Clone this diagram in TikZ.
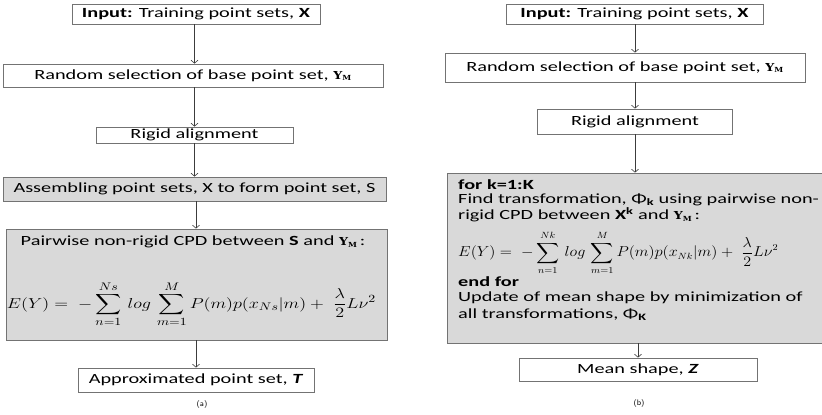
\documentclass[tikz,border=0pt]{standalone}
\usepackage{graphicx}
\usepackage{exscale}
\usepackage[no-math]{fontspec}
\setmainfont{Carlito}[FakeStretch=1.45]
\newfontfamily\ymfont{DejaVu Serif}[FakeStretch=1.15]
\usetikzlibrary{arrows.meta}
\definecolor{bordc}{RGB}{115,115,115}
\definecolor{fillg}{RGB}{217,217,217}
\definecolor{arrc}{RGB}{60,60,60}
\newcommand{\YM}{{\ymfont\bfseries\fontsize{11}{12}\selectfont Y\textsubscript{\fontsize{7}{8}\selectfont M}}}
\newcommand{\fml}[1]{$\displaystyle E(Y) = \;-\sum_{n=1}^{#1} \,log\, \sum_{m=1}^{M} P(m)p(x_{#1}|m) + \;\frac{\lambda}{2} L\nu^2$}
\begin{document}
\begin{tikzpicture}[x=1pt,y=-1pt,
  box/.style={draw=bordc, line width=0.8pt, fill=white, inner sep=0pt, font=\fontsize{14}{15}\selectfont},
  gbox/.style={box, fill=fillg},
  txt/.style={inner sep=0pt, font=\fontsize{14}{15}\selectfont},
  arr/.style={draw=arrc, line width=0.6pt, -{Straight Barb[length=3pt,width=7pt]}},
  capt/.style={inner sep=0pt, font=\fontfamily{lmss}\fontsize{8}{9}\selectfont}]
\useasboundingbox (0,0) rectangle (822,415);
% ---------- left (a) ----------
\node[box, minimum width=248pt, minimum height=20pt] (in1) at (196,14) {\textbf{Input:} Training point sets, \textbf{X}};
\node[box, minimum width=380pt, minimum height=23pt] (rs1) at (193,75.5) {Random selection of base point set, \YM};
\node[box, minimum width=197pt, minimum height=16pt] (ra1) at (194.5,135) {Rigid alignment};
\node[gbox, minimum width=383pt, minimum height=24pt] (as1) at (194.5,189) {Assembling point sets, X to form point set, S};
\node[gbox, minimum width=381pt, minimum height=111pt] (pw1) at (196.5,284.5) {};
\node[txt] (pw1t) at (193,242) {Pairwise non-rigid CPD between \textbf{S} and \YM\,:};
\node[txt] (pw1f) at (191.5,304) {\resizebox{369pt}{\height}{\fontsize{15}{18}\selectfont\fml{Ns}}};
\node[box, minimum width=236pt, minimum height=24pt] (ap1) at (196,380) {Approximated point set, \textbf{\textit{T}}};
\node[capt] (cap1) at (202,404) {(a)};
\draw[arr] (in1.south -| ra1.south) -- (ra1.south |- rs1.north);
\draw[arr] (rs1.south -| ra1.south) -- (ra1.north);
\draw[arr] (ra1.south) -- (as1.north -| ra1.south);
\draw[arr] (as1.south -| ap1.north) -- (pw1.north -| ap1.north);
\draw[arr] (pw1.south -| ap1.north) -- (ap1.north);
% ---------- right (b) ----------
\node[box, minimum width=257pt, minimum height=20pt] (in2) at (634.5,14) {\textbf{Input:} Training point sets, \textbf{X}};
\node[box, minimum width=360pt, minimum height=29pt] (rs2) at (625,67.5) {Random selection of base point set, \YM};
\node[box, minimum width=195pt, minimum height=25pt] (ra2) at (635,121.5) {Rigid alignment};
\node[gbox, minimum width=378pt, minimum height=170pt] (lp2) at (636,258) {};
\node[txt, anchor=west] (l1) at (458,185) {\textbf{for k=1:K}};
\node[txt, anchor=west] (l2) at (458,200) {Find transformation, Φ\textsubscript{\textbf{k}} using pairwise non-};
\node[txt, anchor=west] (l3) at (458,215) {rigid CPD between \textbf{X\textsuperscript{k}} and \YM\,:};
\node[txt, anchor=west] (l4) at (458,253) {\resizebox{320pt}{\height}{\fontsize{13.5}{16}\selectfont\fml{Nk}}};
\node[txt, anchor=west] (l5) at (458,282) {\textbf{end for}};
\node[txt, anchor=west] (l6) at (458,298) {Update of mean shape by minimization of};
\node[txt, anchor=west] (l7) at (458,315) {all transformations, Φ\textsubscript{\textbf{K}}};
\node[box, minimum width=238pt, minimum height=23pt] (mn2) at (638,369.5) {Mean shape, \textbf{\textit{Z}}};
\node[capt] (cap2) at (639,403) {(b)};
\draw[arr] (in2.south -| ra2.south) -- (ra2.south |- rs2.north);
\draw[arr] (rs2.south -| ra2.south) -- (ra2.north);
\draw[arr] (ra2.south) -- (lp2.north -| ra2.south);
\draw[arr] (lp2.south -| mn2.north) -- (mn2.north);
\end{tikzpicture}
\end{document}
